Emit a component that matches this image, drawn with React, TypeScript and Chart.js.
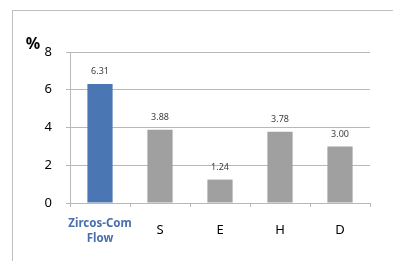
import React, { useEffect, useRef } from "react";
import { Chart, registerables } from "chart.js";

Chart.register(...registerables);

const categories: (string | string[])[] = [["Zircos-Com", "Flow"], "S", "E", "H", "D"];
const values: number[] = [6.31, 3.88, 1.24, 3.78, 3.0];
const barColors: string[] = ["#4a76b4", "#a0a0a0", "#a0a0a0", "#a0a0a0", "#a0a0a0"];
const yTicks: number[] = [0, 2, 4, 6, 8];

const FONT = '"Noto Sans", "Open Sans", sans-serif';

const labelPlugin = {
  id: "valueLabels",
  afterDatasetsDraw(chart: any) {
    const ctx = chart.ctx;
    const meta = chart.getDatasetMeta(0);
    ctx.save();
    ctx.font = `9px ${FONT}`;
    ctx.fillStyle = "#404040";
    ctx.textAlign = "center";
    ctx.textBaseline = "middle";
    meta.data.forEach((bar: any, i: number) => {
      ctx.fillText(values[i].toFixed(2), bar.x, bar.y - 12);
    });
    const area = chart.chartArea;
    ctx.font = `bold 16px ${FONT}`;
    ctx.fillStyle = "#000000";
    ctx.textAlign = "center";
    ctx.fillText("%", area.left - 37, area.top - 8);
    ctx.restore();
  },
};

export default function App() {
  const ref = useRef<HTMLCanvasElement | null>(null);
  useEffect(() => {
    if (!ref.current) return;
    const chart = new Chart(ref.current, {
      type: "bar",
      data: {
        labels: categories,
        datasets: [
          {
            data: values,
            backgroundColor: barColors,
            barPercentage: 0.42,
            categoryPercentage: 1,
          },
        ],
      },
      options: {
        responsive: false,
        animation: false,
        layout: { padding: { left: 0, right: 23, top: 52, bottom: 0 } },
        plugins: { legend: { display: false }, tooltip: { enabled: false } },
        scales: {
          x: {
            grid: {
              drawOnChartArea: false,
              drawTicks: true,
              tickLength: 4,
              color: "#b8b8b8",
            },
            border: { color: "#b8b8b8" },
            ticks: {
              padding: 17,
              autoSkip: false,
              maxRotation: 0,
              minRotation: 0,
              crossAlign: "center",
              color: (c: any) => (c.index === 0 ? "#4a6fae" : "#000000"),
              font: (c: any) =>
                c.index === 0
                  ? { family: FONT, size: 11.5, weight: "bold", lineHeight: 1.25 }
                  : { family: FONT, size: 13, lineHeight: 1.25 },
            },
            afterFit: (s: any) => {
              s.height = 58;
            },
          },
          y: {
            min: 0,
            max: 8,
            afterBuildTicks: (s: any) => {
              s.ticks = yTicks.map((v) => ({ value: v }));
            },
            grid: { color: "#b8b8b8", tickLength: 4 },
            border: { color: "#b8b8b8" },
            ticks: {
              padding: 14,
              color: "#000000",
              font: { family: FONT, size: 13 },
            },
            afterFit: (s: any) => {
              s.width = 70;
            },
          },
        },
      },
      plugins: [labelPlugin],
    } as any);
    return () => chart.destroy();
  }, []);
  return (
    <div style={{ position: "fixed", left: 0, top: 0, width: 393, height: 261, background: "#ffffff" }}>
      <div
        style={{
          position: "absolute",
          left: 12,
          top: 10,
          right: 0,
          bottom: 0,
          borderTop: "1px solid #c0c0c0",
          borderLeft: "1px solid #c0c0c0",
        }}
      />
      <canvas ref={ref} width={393} height={261} style={{ position: "absolute", left: 0, top: 0 }} />
    </div>
  );
}
